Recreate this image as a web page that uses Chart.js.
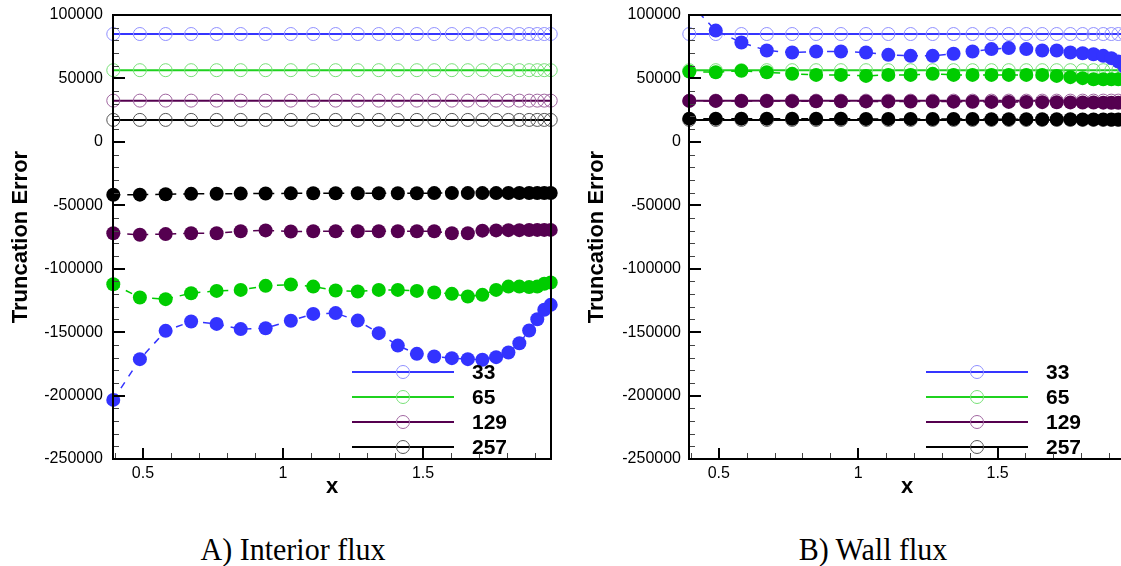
<!DOCTYPE html>
<html>
<head>
<meta charset="utf-8">
<script src="https://cdn.jsdelivr.net/npm/chart.js@4.4.1/dist/chart.umd.min.js"></script>
<style>
  html, body { margin: 0; padding: 0; background: #fff; width: 1121px; height: 566px; overflow: hidden; position: relative; }
  canvas { position: absolute; top: 0; }
  #chartA { left: 0; }
  #chartB { left: 570px; }
  .cap { position: absolute; top: 534px; line-height: 30px; font-family: "Liberation Serif", "Times New Roman", serif; font-size: 30px; transform: translateX(-50%) scaleY(1.06); white-space: nowrap; color: #000; }
</style>
</head>
<body>
<canvas id="chartA" width="560" height="500"></canvas>
<canvas id="chartB" width="570" height="500"></canvas>
<div class="cap" style="left:293px;">A) Interior flux</div>
<div class="cap" style="left:873px;">B) Wall flux</div>

<script>
// grid sizes (legend) and the x locations of the samples
const gridSizes = ['33', '65', '129', '257'];
const xPos = [0.394, 0.489, 0.581, 0.672, 0.763, 0.849, 0.938, 1.028, 1.108, 1.188, 1.267, 1.342, 1.410,
              1.478, 1.540, 1.603, 1.660, 1.712, 1.761, 1.805, 1.844, 1.879, 1.908, 1.933, 1.956];

// open circles + solid line (same in both panels)
const ref33  = [85000, 85000, 85000, 85000, 85000, 85000, 85000, 85000, 85000, 85000, 85000, 85000, 85000,
                85000, 85000, 85000, 85000, 85000, 85000, 85000, 85000, 85000, 85000, 85000, 85000];
const ref65  = [56500, 56500, 56500, 56500, 56500, 56500, 56500, 56500, 56500, 56500, 56500, 56500, 56500,
                56500, 56500, 56500, 56500, 56500, 56500, 56500, 56500, 56500, 56500, 56500, 56500];
const ref129 = [32500, 32500, 32500, 32500, 32500, 32500, 32500, 32500, 32500, 32500, 32500, 32500, 32500,
                32500, 32500, 32500, 32500, 32500, 32500, 32500, 32500, 32500, 32500, 32500, 32500];
const ref257 = [17300, 17300, 17300, 17300, 17300, 17300, 17300, 17300, 17300, 17300, 17300, 17300, 17300,
                17300, 17300, 17300, 17300, 17300, 17300, 17300, 17300, 17300, 17300, 17300, 17300];

// A) interior flux, filled circles + dashed line
const int33  = [-203400, -171300, -149000, -141600, -143500, -147600, -146900, -141000, -135600, -135000, -140900, -150800, -160600,
                -167100, -169200, -170500, -171300, -171800, -169700, -166100, -158700, -148700, -139800, -132400, -128500];
const int65  = [-112200, -122700, -124000, -119300, -117500, -116700, -113500, -112500, -114100, -117200, -118000, -116700, -116700,
                -117500, -118800, -119800, -121900, -120600, -116700, -114100, -114100, -114500, -114100, -111900, -110900];
const int129 = [-72000, -73200, -72700, -72000, -72000, -70500, -69800, -70700, -70500, -70500, -70500, -70500, -70500,
                -70500, -70500, -72000, -72000, -70000, -69800, -69600, -69600, -69500, -69400, -69400, -69400];
const int257 = [-41700, -41600, -41300, -41000, -40900, -40800, -40700, -40600, -40500, -40500, -40500, -40500, -40500,
                -40500, -40400, -40400, -40400, -40400, -40400, -40300, -40300, -40300, -40300, -40300, -40300];

// B) wall flux, filled circles + dashed line
const wall33  = [110000, 87700, 78300, 72000, 70400, 71200, 71200, 70400, 68600, 67800, 67800, 69400, 71200,
                 73100, 73900, 73100, 72000, 72000, 70400, 69900, 69100, 67800, 66000, 63300, 59000];
const wall65  = [55400, 54900, 56000, 54900, 53600, 52800, 52800, 52000, 52800, 52800, 53600, 52800, 52800,
                 52800, 52800, 52800, 52800, 52000, 51000, 50200, 49400, 49400, 49400, 49400, 49000];
const wall129 = [32300, 32300, 32200, 32200, 32100, 32000, 32000, 31900, 31900, 31800, 31800, 31700, 31600,
                 31500, 31500, 31400, 31300, 31200, 31100, 31000, 31000, 30900, 30800, 30800, 30700];
const wall257 = [18300, 18300, 18300, 18300, 18200, 18200, 18200, 18100, 18100, 18100, 18000, 18000, 18000,
                 17900, 17900, 17900, 17800, 17800, 17800, 17700, 17700, 17700, 17600, 17600, 17600];

const xTicks = [0.5, 1, 1.5];
const yTicks = [100000, 50000, 0, -50000, -100000, -150000, -200000, -250000];

const lineColors = ['#3535ff', '#1fd21f', '#55004f', '#000000'];
const openColors = ['#8f8fff', '#78e078', '#a066a0', '#555555'];
const fillColors = ['#3333ff', '#00cc00', '#550050', '#000000'];

const SANS = '"Liberation Sans", Arial, Helvetica, sans-serif';
const pts = ys => ys.map((y, i) => ({ x: xPos[i], y }));

// ticks pointing into the plot + the frame
const framePlugin = {
  id: 'frame',
  afterDraw(chart) {
    const { ctx, chartArea: a, scales: { x, y } } = chart;
    ctx.save();
    // minor
    ctx.lineWidth = 1;
    ctx.strokeStyle = '#444';
    ctx.beginPath();
    for (let v = 0.4; v < 1.95; v += 0.1) {
      const px = Math.round(x.getPixelForValue(v)) + 0.5;
      ctx.moveTo(px, a.bottom); ctx.lineTo(px, a.bottom - 6);
    }
    for (let v = -240000; v < 100000; v += 10000) {
      const py = Math.round(y.getPixelForValue(v)) + 0.5;
      ctx.moveTo(a.left, py); ctx.lineTo(a.left + 6, py);
    }
    ctx.stroke();
    // major
    ctx.lineWidth = 2;
    ctx.strokeStyle = '#000';
    ctx.beginPath();
    xTicks.forEach(v => {
      const px = Math.round(x.getPixelForValue(v));
      ctx.moveTo(px, a.bottom); ctx.lineTo(px, a.bottom - 11);
    });
    yTicks.forEach(v => {
      const py = Math.round(y.getPixelForValue(v));
      ctx.moveTo(a.left, py); ctx.lineTo(a.left + 12, py);
    });
    ctx.stroke();
    ctx.strokeRect(a.left, a.top, a.right - a.left, a.bottom - a.top);
    ctx.restore();
  }
};

// legend inside the lower right corner
const legendPlugin = {
  id: 'cornerLegend',
  afterDatasetsDraw(chart) {
    const { ctx, chartArea: a } = chart;
    ctx.save();
    gridSizes.forEach((lab, i) => {
      const yy = a.bottom - 87 + i * 25;
      ctx.strokeStyle = lineColors[i];
      ctx.lineWidth = 2;
      ctx.beginPath();
      ctx.moveTo(a.right - 199, yy); ctx.lineTo(a.right - 97, yy);
      ctx.stroke();
      ctx.strokeStyle = openColors[i];
      ctx.lineWidth = 1;
      ctx.beginPath();
      ctx.arc(a.right - 148, yy, 6.5, 0, Math.PI * 2);
      ctx.stroke();
      ctx.fillStyle = '#000';
      ctx.font = 'bold 21px ' + SANS;
      ctx.textAlign = 'left';
      ctx.textBaseline = 'middle';
      ctx.fillText(lab, a.right - 79, yy + 1);
    });
    ctx.restore();
  }
};

function makeChart(id, filled, yAxisW, padRight, titlePad, labelPad) {
  const clip = { left: false, right: false, top: 0, bottom: false };
  const filledSets = filled.map((ys, i) => ({
    label: gridSizes[i] + ' filled', data: pts(ys), clip,
    borderColor: fillColors[i], borderWidth: 1.5, borderDash: [7, 7],
    pointRadius: 7, pointBorderWidth: 0, pointBackgroundColor: fillColors[i]
  }));
  const openSets = [ref33, ref65, ref129, ref257].map((ys, i) => ({
    label: gridSizes[i], data: pts(ys), clip,
    borderColor: lineColors[i], borderWidth: 2,
    pointRadius: 6.5, pointBorderWidth: 1, pointBorderColor: openColors[i],
    pointBackgroundColor: 'rgba(0,0,0,0)'
  }));
  return new Chart(document.getElementById(id), {
    type: 'line',
    data: { datasets: [...filledSets, ...openSets] },
    options: {
      responsive: false, animation: false,
      layout: { padding: { top: 15, right: padRight, left: 0, bottom: 0 } },
      plugins: { legend: { display: false }, tooltip: { enabled: false } },
      scales: {
        x: {
          type: 'linear', min: 0.393, max: 1.957,
          afterBuildTicks: s => { s.ticks = xTicks.map(v => ({ value: v })); },
          afterFit: s => { s.height = 41; s.paddingLeft = 0; s.paddingRight = 0; },
          grid: { display: false, drawTicks: false }, border: { display: false },
          ticks: { color: '#000', font: { family: SANS, size: 16 }, padding: 5, callback: v => String(v), maxRotation: 0 },
          title: { display: true, text: 'x', color: '#000', font: { family: SANS, size: 22, weight: 'bold' }, padding: { top: 0, bottom: 0 } }
        },
        y: {
          type: 'linear', min: -250000, max: 100000,
          afterBuildTicks: s => { s.ticks = yTicks.map(v => ({ value: v })); },
          afterFit: s => { s.width = yAxisW; s.paddingTop = 0; s.paddingBottom = 0; },
          grid: { display: false, drawTicks: false }, border: { display: false },
          ticks: { color: '#000', font: { family: SANS, size: 16 }, padding: labelPad, callback: v => String(v) },
          title: { display: true, text: 'Truncation Error', color: '#000', font: { family: SANS, size: 22, weight: 'bold' }, padding: { top: titlePad, bottom: 0 } }
        }
      }
    },
    plugins: [framePlugin, legendPlugin]
  });
}

makeChart('chartA', [int33, int65, int129, int257], 113, 9, 8, 10);
makeChart('chartB', [wall33, wall65, wall129, wall257], 119, 15, 14, 8);
</script>
</body>
</html>
